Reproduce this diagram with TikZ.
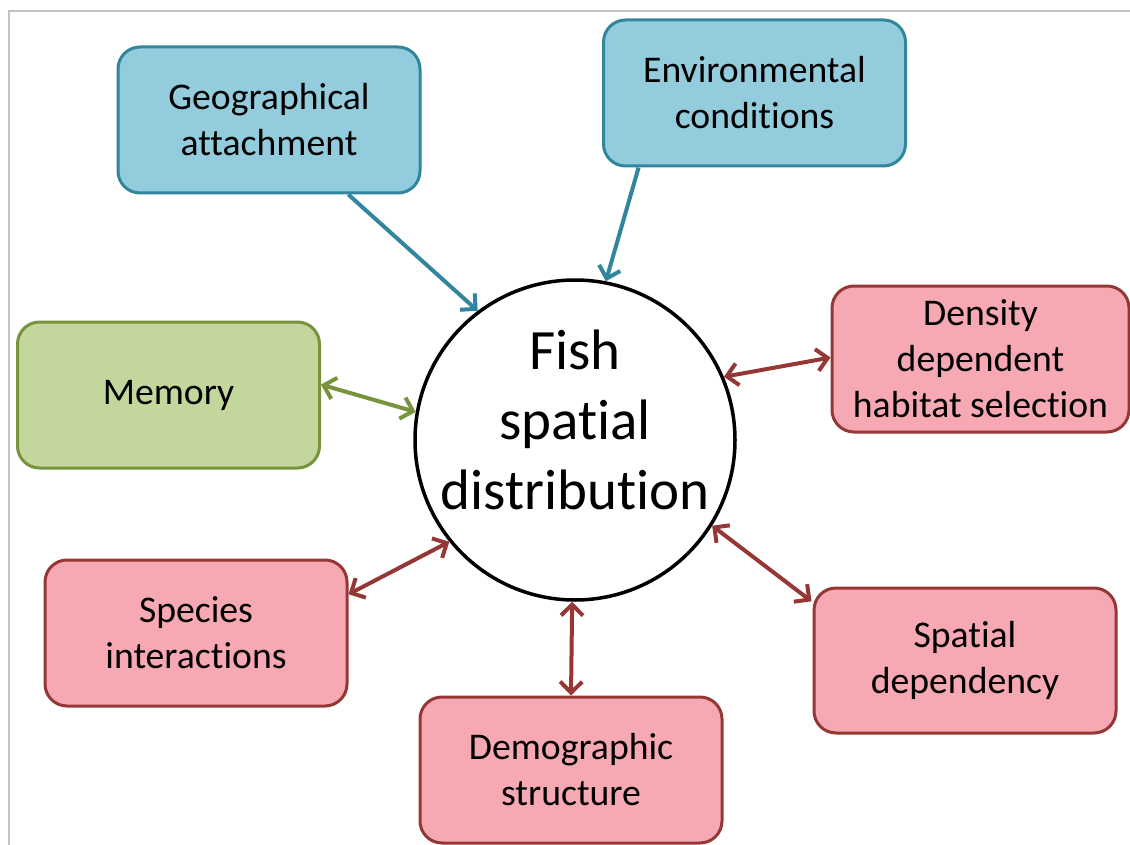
\documentclass[tikz,border=0pt]{standalone}
\usepackage{fontspec}
\setmainfont{Carlito}[Ligatures=NoCommon]
\usetikzlibrary{arrows.meta,calc}
\definecolor{bfill}{HTML}{93CDDD}
\definecolor{bline}{HTML}{31859C}
\definecolor{gfill}{HTML}{C3D69B}
\definecolor{gline}{HTML}{77933C}
\definecolor{rfill}{HTML}{F7A9B3}
\definecolor{rline}{HTML}{953735}
\definecolor{frame}{HTML}{C4C4C4}
\tikzset{
  box/.style={rounded corners=22pt, minimum width=302pt, minimum height=146pt,
    inner sep=0pt, align=center, line width=3pt,
    font=\fontsize{37.7}{46}\selectfont},
  bluebox/.style={box, fill=bfill, draw=bline},
  greenbox/.style={box, fill=gfill, draw=gline},
  redbox/.style={box, fill=rfill, draw=rline},
  conn/.style={line width=4pt},
  tip/.tip={Straight Barb[length=11pt,width=22pt]},
  oneway/.style={conn, -tip},
  twoway/.style={conn, tip-tip},
}
\begin{document}
\begin{tikzpicture}[x=1pt,y=-1pt]
\useasboundingbox (0,0) rectangle (1130,845);
\draw[frame, line width=1.5pt] (9,845) -- (9,11) -- (1130,11);

\node[circle, draw=black, line width=3.5pt, minimum size=320pt, inner sep=0pt] (fish) at (575,440) {};
\node[align=center, inner sep=0pt, font=\fontsize{57}{70}\selectfont] (fishtext) at ($(fish.center)+(0,-20)$) {Fish\\spatial\\distribution};

\node[bluebox] (geo) at (269,120) {Geographical\\attachment};
\node[bluebox] (env) at (754.5,93) {Environmental\\conditions};
\node[greenbox] (mem) at (168.5,395) {Memory};
\node[redbox, minimum width=297pt] (dens) at (980.5,359) {Density\\dependent\\habitat selection};
\node[redbox] (spec) at (196,633) {Species\\interactions};
\node[redbox, minimum height=145pt] (spat) at (965,660.5) {Spatial\\dependency};
\node[redbox] (demo) at (571,770) {Demographic\\structure};

\draw[oneway, bline] ($(geo.south west)!0.76!(geo.south east)$) -- (fish.127);
\draw[oneway, bline] ($(env.south west)!0.12!(env.south east)$) -- (fish.79.5);
\draw[twoway, gline] ($(mem.north east)!0.43!(mem.south east)$) -- (fish.170);
\draw[twoway, rline] (fish.23) -- ($(dens.north west)!0.49!(dens.south west)$);
\draw[twoway, rline] ($(spec.north east)!0.24!(spec.south east)$) -- (fish.219.7);
\draw[twoway, rline] (fish.328) -- ($(spat.north west)!0.1!(spat.south west)+(-1,0)$);
\draw[twoway, rline] (fish.269) -- (demo.north);
\end{tikzpicture}
\end{document}
